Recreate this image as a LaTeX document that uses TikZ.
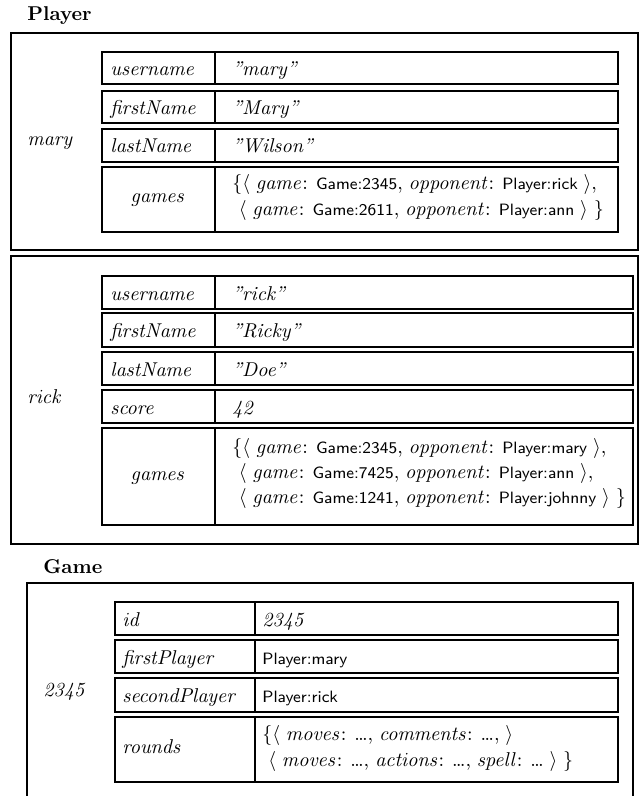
\documentclass[tikz,border=0pt]{standalone}
\newcommand\tightsp{\spaceskip=2.9pt plus 1pt minus 1pt\relax}
\tikzset{
  outerbox/.style={line width=1pt},
  rowbox/.style={line width=1.4pt},
  divline/.style={line width=0.9pt},
  ttl/.style={inner sep=0pt, anchor=base west, font=\fontsize{10}{12}\selectfont\bfseries},
  key/.style={inner sep=0pt, anchor=base west, font=\fontsize{10}{12}\selectfont},
  ckey/.style={inner sep=0pt, anchor=base, font=\fontsize{10}{12}\selectfont},
  val/.style={inner sep=0pt, anchor=base west, font=\fontsize{10}{12}\selectfont, execute at begin node=\tightsp},
}
\newcommand\sv[1]{{\fontsize{8.2}{10}\selectfont\sffamily #1}}
\newcommand\iw[1]{$\mathit{#1}$}
\newcommand\qv[1]{\textit{”#1”}}
\begin{document}
\begin{tikzpicture}[x=0.5pt,y=-0.5pt]
\useasboundingbox (0,0) rectangle (639,796);
% ---------- Player ----------
\node[ttl] (tplayer) at (27,21) {Player};
% mary
\draw[outerbox] (11,33) rectangle (637.5,250);
\node[key] (lmary) at (27,146) {\iw{mary}};
\foreach \t/\b in {52/84,91/123,129/162,167/232}{
  \draw[rowbox] (102,\t) rectangle (618,\b);
  \draw[divline] (215,\t) -- (215,\b);
}
\node[key] (m1k) at (110,76) {\iw{username}};
\node[val] (m1v) at (232,76) {\qv{mary}};
\node[key] (m2k) at (110,115) {\iw{firstName}};
\node[val] (m2v) at (232,115) {\qv{Mary}};
\node[key] (m3k) at (110,153) {\iw{lastName}};
\node[val] (m3v) at (232,153) {\qv{Wilson}};
\node[ckey] (m4k) at (158,203) {\iw{games}};
\node[val] (m4a) at (232,190) {$\{\langle$ \iw{game}: \sv{Game:2345}, \iw{opponent}: \sv{Player:rick} $\rangle$,};
\node[val] (m4b) at (238.5,216) {$\langle$ \iw{game}: \sv{Game:2611}, \iw{opponent}: \sv{Player:ann} $\rangle$ $\}$};
% rick
\draw[outerbox] (11,256) rectangle (637.5,544);
\node[key] (lrick) at (27,403) {\iw{rick}};
\foreach \t/\b in {276/309,313/347,352/385,390/423,428/525}{
  \draw[rowbox] (102,\t) rectangle (633,\b);
  \draw[divline] (215,\t) -- (215,\b);
}
\node[key] (r1k) at (110,300) {\iw{username}};
\node[val] (r1v) at (232,300) {\qv{rick}};
\node[key] (r2k) at (110,337) {\iw{firstName}};
\node[val] (r2v) at (232,337) {\qv{Ricky}};
\node[key] (r3k) at (110,376) {\iw{lastName}};
\node[val] (r3v) at (232,376) {\qv{Doe}};
\node[key] (r4k) at (110,414) {\iw{score}};
\node[val] (r4v) at (232,414) {\textit{42}};
\node[ckey] (r5k) at (158,480) {\iw{games}};
\node[val] (r5a) at (232,453) {$\{\langle$ \iw{game}: \sv{Game:2345}, \iw{opponent}: \sv{Player:mary} $\rangle$,};
\node[val] (r5b) at (238.5,478) {$\langle$ \iw{game}: \sv{Game:7425}, \iw{opponent}: \sv{Player:ann} $\rangle$,};
\node[val] (r5c) at (238.5,503) {$\langle$ \iw{game}: \sv{Game:1241}, \iw{opponent}: \sv{Player:johnny} $\rangle$ $\}$};
% ---------- Game ----------
\node[ttl] (tgame) at (43,573) {Game};
\draw[outerbox] (27,800) -- (27,583) -- (633,583) -- (633,800);
\node[key] (lgame) at (43,696) {\textit{2345}};
\foreach \t/\b in {602/635,640/673,678/712,717/782}{
  \draw[rowbox] (115,\t) rectangle (618,\b);
  \draw[divline] (255,\t) -- (255,\b);
}
\node[key] (g1k) at (122,626) {\iw{id}};
\node[val] (g1v) at (262,626) {\textit{2345}};
\node[key] (g2k) at (122,664) {\iw{firstPlayer}};
\node[val] (g2v) at (262,664) {\sv{Player:mary}};
\node[key] (g3k) at (122,702) {\iw{secondPlayer}};
\node[val] (g3v) at (262,702) {\sv{Player:rick}};
\node[key] (g4k) at (122,753) {\iw{rounds}};
\node[val] (g4a) at (262,740) {$\{\langle$ \iw{moves}: \ldots, \iw{comments}: \ldots, $\rangle$};
\node[val] (g4b) at (268,766) {$\langle$ \iw{moves}: \ldots, \iw{actions}: \ldots, \iw{spell}: \ldots\ $\rangle$ $\}$};
\end{tikzpicture}
\end{document}
